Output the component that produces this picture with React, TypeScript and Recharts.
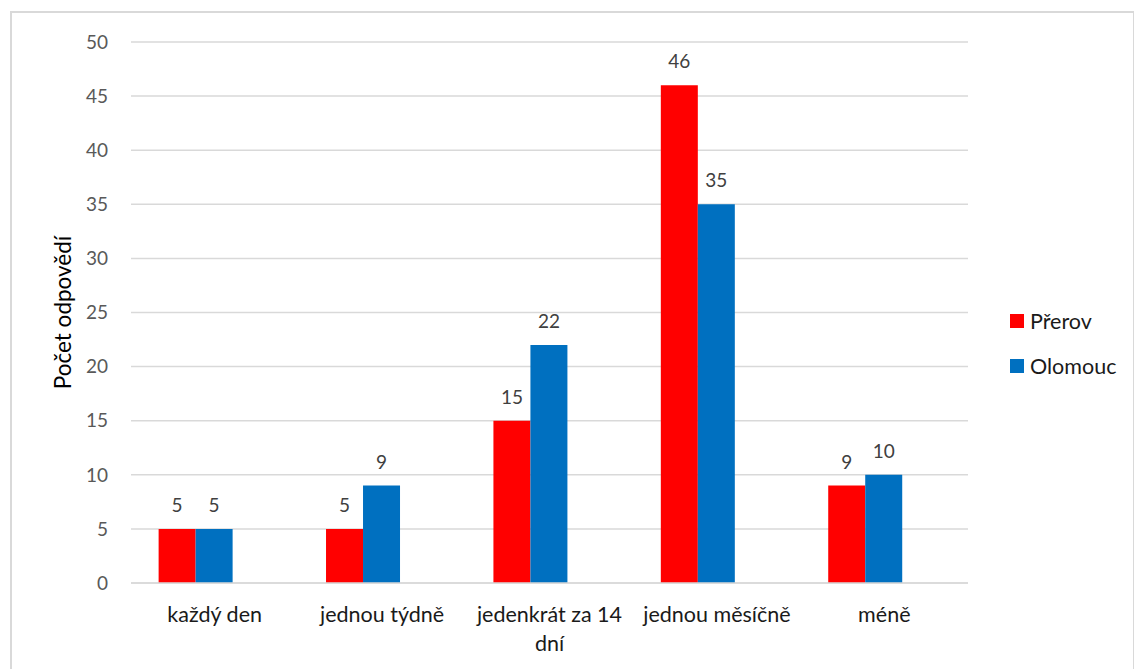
import { Bar, BarChart, CartesianGrid, LabelList, XAxis, YAxis } from "recharts";

const categories = ["každý den", "jednou týdně", "jedenkrát za 14 dní", "jednou měsíčně", "méně"];
const prerov = [5, 5, 15, 46, 9];
const olomouc = [5, 9, 22, 35, 10];
const spare: Array<number | null> = [null, null, null, null, null];
const yTicks = [0, 5, 10, 15, 20, 25, 30, 35, 40, 45, 50];

const series = [
  { key: "prerov", name: "Přerov", color: "#FF0000" },
  { key: "olomouc", name: "Olomouc", color: "#0070C0" },
];

const data = categories.map((name, i) => ({
  name,
  prerov: prerov[i],
  olomouc: olomouc[i],
  spare: spare[i],
}));

const FONT = "Lato, 'Open Sans', sans-serif";
const CAT_SIZE = 21.5;

// greedy word wrap measured on a canvas, like Excel wraps long category names
function wrapLabel(text: string, maxWidth: number): string[] {
  const ctx = document.createElement("canvas").getContext("2d");
  if (!ctx) return [text];
  ctx.font = `${CAT_SIZE}px ${FONT}`;
  const lines: string[] = [];
  let line = "";
  for (const word of text.split(" ")) {
    const next = line ? line + " " + word : word;
    if (line && ctx.measureText(next).width > maxWidth) {
      lines.push(line);
      line = word;
    } else {
      line = next;
    }
  }
  if (line) lines.push(line);
  return lines;
}

function CategoryTick(props: any) {
  const { x, y, payload } = props;
  const lines = wrapLabel(String(payload.value), 160);
  return (
    <text x={x} y={y} textAnchor="middle" fill="#1a1a1a" fontSize={CAT_SIZE} fontFamily={FONT}>
      {lines.map((l, i) => (
        <tspan key={i} x={x} dy={i === 0 ? "0.75em" : 29}>
          {l}
        </tspan>
      ))}
    </text>
  );
}

function SideLegend() {
  return (
    <div style={{ position: "absolute", left: 1010, top: 298, fontFamily: FONT, fontSize: 21.5, color: "#1a1a1a" }}>
      {series.map((s) => (
        <div key={s.key} style={{ display: "flex", alignItems: "center", height: 45 }}>
          <span style={{ width: 14, height: 14, background: s.color, marginRight: 6, display: "inline-block" }} />
          {s.name}
        </div>
      ))}
    </div>
  );
}

export default function App() {
  return (
    <div style={{ position: "absolute", left: 0, top: 0, width: 1134, height: 669, overflow: "hidden", background: "#fff" }}>
      <div
        style={{
          position: "absolute",
          left: 10,
          top: 11,
          width: 1121,
          height: 700,
          border: "2px solid #D9D9D9",
        }}
      />
      <BarChart
        width={1134}
        height={669}
        data={data}
        margin={{ top: 42, right: 166, bottom: 26, left: 0 }}
        barCategoryGap="16.5%"
        barGap={0}
      >
        <CartesianGrid vertical={false} stroke="#D9D9D9" strokeWidth={1.5} />
        <XAxis
          dataKey="name"
          height={60}
          tickLine={false}
          axisLine={{ stroke: "#D9D9D9", strokeWidth: 1.5 }}
          tick={<CategoryTick />}
          tickMargin={17}
          interval={0}
        />
        <YAxis
          width={131}
          domain={[0, 50]}
          ticks={yTicks}
          axisLine={false}
          tickLine={false}
          tickMargin={17}
          tick={{ fill: "#595959", fontSize: 19, fontFamily: FONT }}
          label={{
            value: "Počet odpovědí",
            angle: -90,
            position: "center",
            dx: -2,
            fill: "#000",
            fontSize: 22.5,
            fontFamily: FONT,
          }}
        />
        {series.map((s) => (
          <Bar key={s.key} dataKey={s.key} name={s.name} fill={s.color} isAnimationActive={false}>
            <LabelList
              dataKey={s.key}
              position="top"
              offset={17}
              fill="#404040"
              fontSize={19}
              fontFamily={FONT}
            />
          </Bar>
        ))}
        <Bar dataKey="spare" fill="transparent" legendType="none" isAnimationActive={false} />
      </BarChart>
      <SideLegend />
    </div>
  );
}
